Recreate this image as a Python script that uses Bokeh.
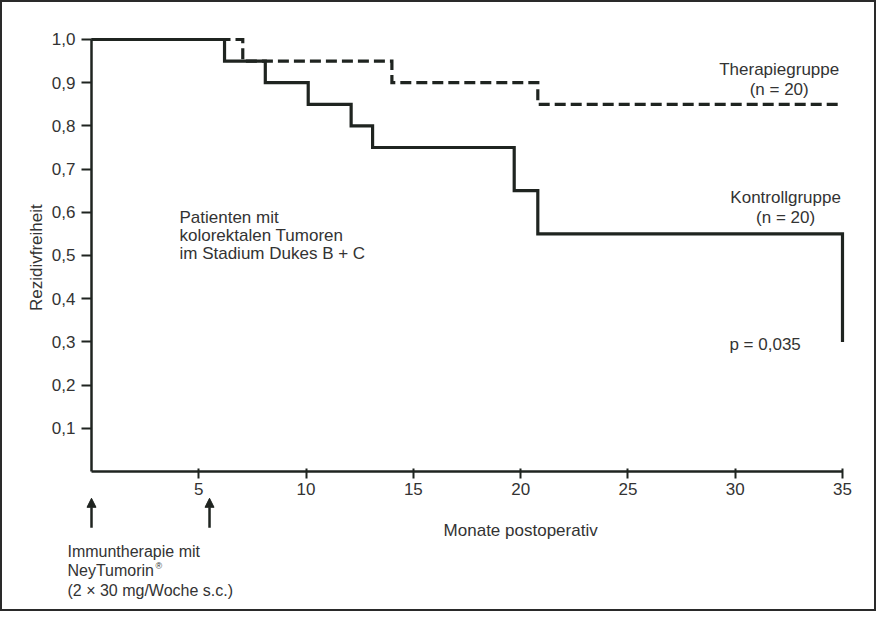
import math
from bokeh.plotting import figure
from bokeh.models import Label, Arrow, NormalHead, FixedTicker, CustomJSTickFormatter, Range1d
from bokeh.embed import file_html
from bokeh.resources import INLINE

# ---- data ----
kontroll_monate = [0, 6.2, 8.1, 10.1, 12.1, 13.1, 19.7, 20.8, 35]
kontroll_rate = [1.0, 0.95, 0.90, 0.85, 0.80, 0.75, 0.65, 0.55, 0.30]
therapie_monate = [0, 7.05, 14.0, 20.8, 35]
therapie_rate = [1.0, 0.95, 0.90, 0.85, 0.85]
x_ticks = [5, 10, 15, 20, 25, 30, 35]
y_ticks = [0.1, 0.2, 0.3, 0.4, 0.5, 0.6, 0.7, 0.8, 0.9, 1.0]
y_tick_labels = ["0,1", "0,2", "0,3", "0,4", "0,5", "0,6", "0,7", "0,8", "0,9", "1,0"]
injektion_monate = [0, 5.5]

INK = "#1f2420"
TXT = "#333333"
FONT = "Liberation Sans"

# the whole canvas is the frame; axes are pinned at x=0 / y=0
p = figure(width=876, height=611, output_backend="svg", toolbar_location=None,
           x_range=Range1d(-4.148, 36.678), y_range=Range1d(-0.3287, 1.0856),
           min_border_left=0, min_border_right=0, min_border_top=0, min_border_bottom=0)
p.styles = {"border": "2px solid #2a2a2a"}
p.outline_line_color = None
p.xgrid.visible = False
p.ygrid.visible = False
p.background_fill_color = "white"
p.border_fill_color = "white"

# axes
p.xaxis.fixed_location = 0
p.yaxis.fixed_location = 0
p.xaxis.ticker = FixedTicker(ticks=x_ticks)
p.yaxis.ticker = FixedTicker(ticks=y_ticks)
p.yaxis.formatter = CustomJSTickFormatter(
    args=dict(yt=y_ticks, yl=y_tick_labels),
    code="const i = yt.findIndex(t => Math.abs(t - tick) < 1e-6); return i >= 0 ? yl[i] : '';")
p.xaxis.bounds = (0, 35)
p.yaxis.bounds = (0, 1.0)
for ax in (p.xaxis, p.yaxis):
    ax.axis_line_color = INK
    ax.axis_line_width = 2.5
    ax.major_tick_line_color = INK
    ax.major_tick_line_width = 2
    ax.minor_tick_line_color = None
    ax.major_label_text_font = FONT
    ax.major_label_text_font_size = "17px"
    ax.major_label_text_color = TXT
p.xaxis.major_tick_out = 7
p.xaxis.major_tick_in = 3
p.xaxis.major_label_standoff = 5
p.yaxis.major_tick_out = 10
p.yaxis.major_tick_in = 0
p.yaxis.major_label_standoff = 6

# survival curves
p.step(therapie_monate, therapie_rate, mode="after", line_width=3.2, line_color=INK,
       line_dash="11 5", line_join="miter")
p.step(kontroll_monate, kontroll_rate, mode="after", line_width=3.2, line_color=INK,
       line_join="miter")

def lab(x, y, t, align="left", size="17px", angle=0.0, baseline="alphabetic"):
    p.add_layout(Label(x=x, y=y, text=t, text_align=align, text_baseline=baseline,
                       angle=angle, text_font=FONT, text_font_size=size, text_color=TXT))

lab(-2.56, 0.495, "Rezidivfreiheit", "center", angle=math.pi / 2, baseline="middle")
lab(32.05, 0.931, "Therapiegruppe", "center")
lab(32.05, 0.885, "(n = 20)", "center")
lab(32.35, 0.634, "Kontrollgruppe", "center")
lab(32.35, 0.588, "(n = 20)", "center")
lab(29.73, 0.295, "p = 0,035")
lab(4.1, 0.588, "Patienten mit")
lab(4.1, 0.546, "kolorektalen Tumoren")
lab(4.1, 0.505, "im Stadium Dukes B + C")
lab(20.0, -0.137, "Monate postoperativ", "center")
lab(-1.12, -0.185, "Immuntherapie mit", size="16px")
lab(-1.12, -0.229, "NeyTumorin", size="16px")
lab(2.98, -0.219, "®", size="9px")
lab(-1.12, -0.275, "(2 × 30 mg/Woche s.c.)", size="16px")

for m in injektion_monate:
    p.add_layout(Arrow(end=NormalHead(size=9, fill_color=INK, line_color=INK),
                       x_start=m, y_start=-0.13, x_end=m, y_end=-0.062,
                       line_width=2.5, line_color=INK))

open("out.html", "w").write(file_html(p, INLINE))
